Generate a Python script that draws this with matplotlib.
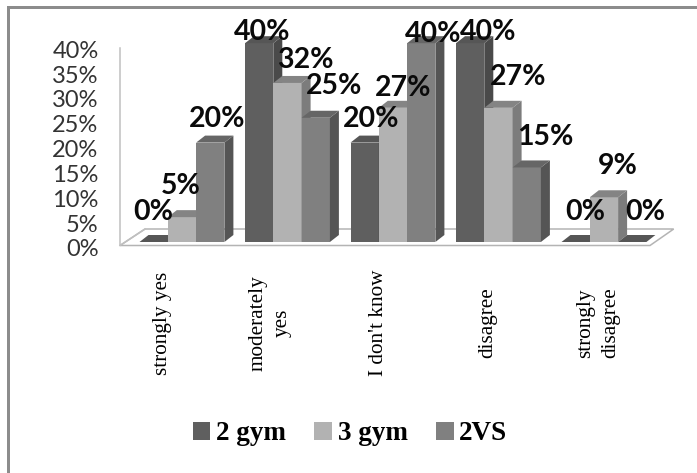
import matplotlib
matplotlib.use("Agg")
import matplotlib.pyplot as plt
from matplotlib.patches import Patch, Polygon, Rectangle
from matplotlib.transforms import Affine2D, ScaledTranslation

categories = ["strongly yes", "moderately\nyes", "I don't know", "disagree", "strongly\ndisagree"]
series_names = ["2 gym", "3 gym", "2VS"]
gym2 = [0, 40, 20, 40, 0]
gym3 = [5, 32, 27, 27, 9]
vs2 = [20, 25, 40, 15, 0]
y_ticks = [0, 5, 10, 15, 20, 25, 30, 35, 40]

W, H = 697, 473
GROUP_STEP = 105.5
BAR_PX = 28.3
PX_PER_PCT = 4.97
X0, Y0 = 139.5, 242.0
DEPTH_X, DEPTH_Y = 9.0, 7.0

FRONT = ["#5f5f5f", "#b2b2b2", "#808080"]
TOP = ["#565656", "#848484", "#666666"]
SIDE = ["#4a4a4a", "#7c7c7c", "#555555"]

# Centre of each value label in pixels, per series then per category
LABEL_POS = [
    [(153, 212), (262.5, 32), (371, 119), (488, 32), (585, 211.5)],
    [(181, 185.5), (305, 60), (403, 88), (518, 77), (618, 166)],
    [(217.5, 119), (334, 86), (433, 34), (545.5, 137), (645, 211.5)],
]
CATEGORY_LABEL_PX = [163, 270, 379, 488, 598]


def u(px):
    return (px - X0) / GROUP_STEP


def v(py):
    return (Y0 - py) / PX_PER_PCT


fig = plt.figure(figsize=(W / 100, H / 100), dpi=100, facecolor="white")
left, right, top, bottom = 100, 690, 20, 250
ax = fig.add_axes([left / W, 1 - bottom / H, (right - left) / W, (bottom - top) / H])
ax.set_xlim(u(left), u(right))
ax.set_ylim(v(bottom), v(top))
ax.patch.set_visible(False)
for spine in ax.spines.values():
    spine.set_visible(False)

pixel_tf = Affine2D().scale(1, -1).translate(0, H)

# Outer frame: only the top and left edges remain
fig.add_artist(Rectangle((7, 6), 690, 3, transform=pixel_tf, fc="#8c8c8c", ec="none"))
fig.add_artist(Rectangle((7, 6), 3, 467, transform=pixel_tf, fc="#8c8c8c", ec="none"))

# Chart floor and back wall edge
floor = [(120, 245.5), (650, 245.5), (673.7, 229), (145, 229)]
ax.add_patch(Polygon([(u(x), v(y)) for x, y in floor], closed=True, fc="white",
                     ec="#b4b4b4", lw=1.1, zorder=1, clip_on=False))
ax.plot([u(120), u(120)], [v(48), v(245.5)], color="#c0c0c0", lw=1.1, zorder=1, clip_on=False)
ax.plot([u(120), u(145)], [v(245.5), v(229)], color="#c0c0c0", lw=1.1, zorder=1, clip_on=False)

bar_w = BAR_PX / GROUP_STEP
dx = DEPTH_X / GROUP_STEP
dy = DEPTH_Y / PX_PER_PCT
z = 2
for s, values in enumerate([gym2, gym3, vs2]):
    for g, val in enumerate(values):
        x0 = g + s * bar_w
        x1 = x0 + bar_w
        ax.bar(x0, val, width=bar_w, align="edge", color=FRONT[s], lw=0, zorder=z)
        ax.add_patch(Polygon([(x1, 0), (x1 + dx, dy), (x1 + dx, val + dy), (x1, val)],
                             closed=True, fc=SIDE[s], ec="none", zorder=z))
        top_color = "#565656" if val == 0 else TOP[s]
        ax.add_patch(Polygon([(x0, val), (x1, val), (x1 + dx, val + dy), (x0 + dx, val + dy)],
                             closed=True, fc=top_color, ec="none", zorder=z))
        z += 1

# Value labels
for s, values in enumerate([gym2, gym3, vs2]):
    for g, val in enumerate(values):
        px, py = LABEL_POS[s][g]
        fig.text(px, py, f"{val}%", transform=pixel_tf, family="Lato", weight="bold",
                 fontsize=20.5, color="#0a0a0a", ha="center", va="center", zorder=50)

# Percent axis, labels sit slightly below their gridline positions
ax.set_yticks(y_ticks, [f"{t}%" for t in y_ticks], family="Lato", fontsize=17, color="#333333")
ax.tick_params(axis="y", length=0, pad=1.0)
shift = ScaledTranslation(0, -0.06, fig.dpi_scale_trans)
for label in ax.get_yticklabels():
    label.set_transform(label.get_transform() + shift)

# Category labels
ax.set_xticks([u(p) for p in CATEGORY_LABEL_PX], categories, family="Liberation Serif",
              fontsize=15.3, rotation=90, ha="center", va="center", multialignment="center",
              color="#000000", linespacing=1.4)
ax.tick_params(axis="x", length=0, pad=52.6)

handles = [Patch(fc=c, ec="none") for c in FRONT]
fig.legend(handles, series_names, loc="center", ncol=3,
           bbox_to_anchor=(350 / W, 1 - 434 / H), frameon=False,
           prop={"family": "Liberation Serif", "weight": "bold", "size": 19.5},
           handlelength=0.66, handleheight=0.66, handletextpad=0.2,
           columnspacing=1.05, borderpad=0, borderaxespad=0)

fig.savefig("out.png", dpi=100, facecolor="white")
